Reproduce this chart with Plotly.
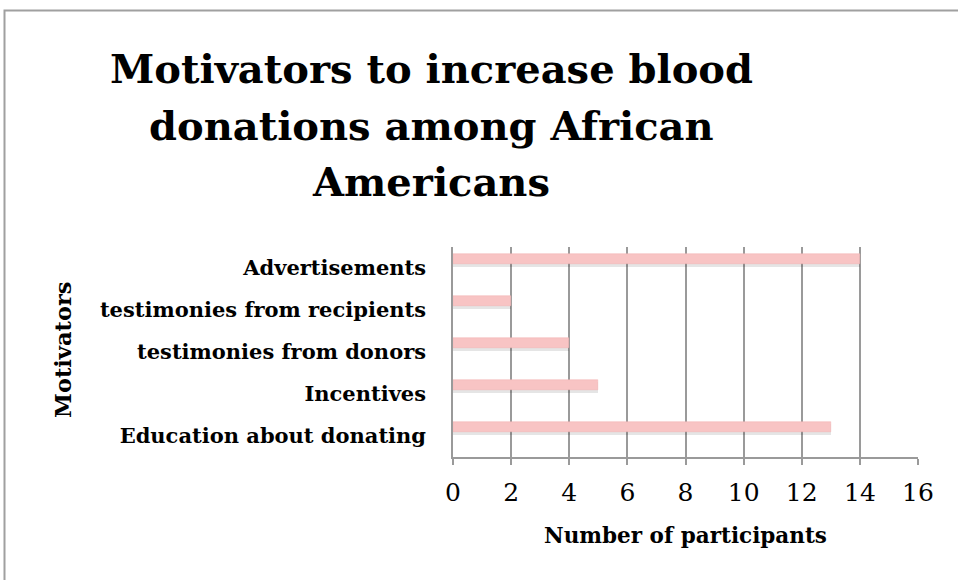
import plotly.graph_objects as go

categories = ["Education about donating", "Incentives", "testimonies from donors",
              "testimonies from recipients", "Advertisements"]
values = [13, 5, 4, 2, 14]
x_ticks = [0, 2, 4, 6, 8, 10, 12, 14, 16]
title_lines = ["Motivators to increase blood", "donations among African", "Americans"]

FONT = "DejaVu Serif"
W, H = 958, 580
L, R, T, B = 453, 40, 247, 123
pw, ph = W - L - R, H - T - B

def px(x):
    return (x - L) / pw

def py(y):
    return (H - B - y) / ph

fig = go.Figure()
# shadow
fig.add_trace(go.Bar(
    y=categories, x=values, orientation="h",
    offset=0.03, width=0.26,
    marker=dict(color="rgba(0,0,0,0.10)", line=dict(width=0)),
    hoverinfo="skip", showlegend=False,
))
fig.add_trace(go.Bar(
    y=categories, x=values, orientation="h",
    offset=0.095, width=0.238,
    marker=dict(color="#f8c4c4", line=dict(color="#f0b0b0", width=0.5)),
    showlegend=False,
))

fig.update_layout(
    width=W, height=H,
    margin=dict(l=L, r=R, t=T, b=B, autoexpand=False),
    paper_bgcolor="white", plot_bgcolor="white",
    font=dict(family=FONT, color="black"),
    bargap=0.0,
    xaxis=dict(
        range=[0, 16], tickvals=x_ticks, ticktext=[str(v) for v in x_ticks],
        showgrid=True, gridcolor="#9a9a9a", gridwidth=1.5,
        showline=True, linecolor="#9a9a9a", linewidth=1.5,
        ticks="outside", ticklen=6, tickcolor="#9a9a9a", tickwidth=1.5,
        tickfont=dict(size=25, family=FONT), ticklabelstandoff=6,
        zeroline=False, fixedrange=True,
        title=dict(text="<b>Number of participants</b>", font=dict(size=21.5, family=FONT), standoff=22),
        mirror=False,
    ),
    yaxis=dict(
        categoryorder="array", categoryarray=categories,
        showgrid=False, showline=True, linecolor="#9a9a9a", linewidth=1.5,
        ticks="", tickfont=dict(size=21, family=FONT),
        tickprefix="<b>", ticksuffix="</b>",
        ticklabelstandoff=21, fixedrange=True,
    ),
)

# title lines
for i, line in enumerate(title_lines):
    fig.add_annotation(
        text=f"<b>{line}</b>", x=px(431), y=py(69 + 56 * i),
        xref="paper", yref="paper", showarrow=False,
        xanchor="center", yanchor="middle",
        font=dict(size=40, family=FONT, color="black"),
    )

# y axis title
fig.add_annotation(
    text="<b>Motivators</b>", x=px(63), y=py(350), xref="paper", yref="paper",
    showarrow=False, textangle=-90, xanchor="center", yanchor="middle",
    font=dict(size=22.5, family=FONT, color="black"),
)

# frame
fig.add_shape(type="rect", xref="paper", yref="paper",
              x0=px(4.5), y0=py(600), x1=px(1000), y1=py(10.5),
              line=dict(color="#a0a0a0", width=2), layer="below")

fig.write_html("out.html")
